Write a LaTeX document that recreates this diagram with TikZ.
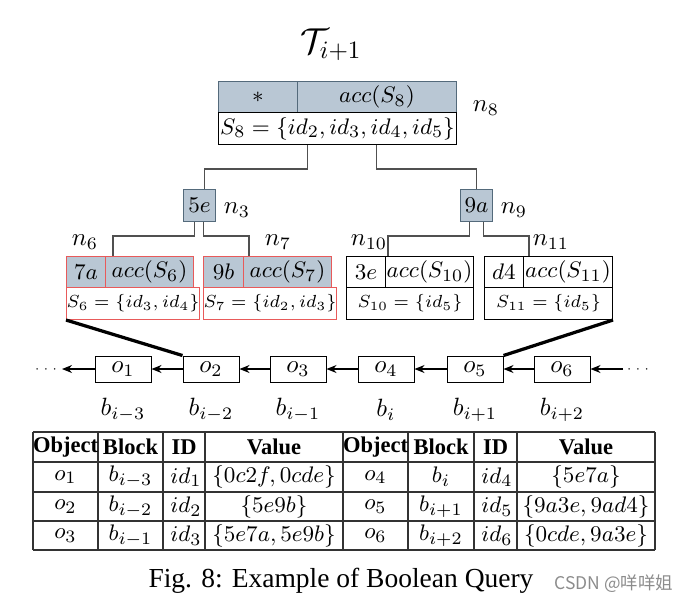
\documentclass[tikz,border=0pt]{standalone}
\usepackage[no-math]{fontspec}
\setmainfont{Liberation Serif}
\newfontfamily\cjkfont{Noto Sans CJK SC}
\usetikzlibrary{calc,positioning,arrows.meta}

\newcommand{\pxu}{0.4pt}
\newcommand{\rootfont}{\fontsize{9.4}{11}\selectfont}
\newcommand{\leaffont}{\fontsize{9.3}{11}\selectfont}
\newcommand{\setfont}{\fontsize{7.5}{9}\selectfont}
\definecolor{keyfill}{RGB}{185,199,212}
\definecolor{slate}{RGB}{84,106,123}
\definecolor{leafred}{RGB}{232,90,90}
\definecolor{edgegray}{RGB}{80,80,80}

\begin{document}
\begin{tikzpicture}[x=\pxu, y=-\pxu,
  cell/.style = {draw, anchor=north west, inner sep=0pt, minimum height=31*\pxu},
  wd/.style = {minimum width=#1*\pxu},
  keycell/.style = {cell, fill=keyfill, draw=slate},
  redtop/.style = {cell, fill=keyfill, draw=leafred, font=\leaffont},
  redrow/.style = {cell, draw=leafred, minimum height=32*\pxu, font=\setfont},
  plaintop/.style = {cell, font=\leaffont},
  plainrow/.style = {cell, minimum height=32*\pxu, font=\setfont},
  branch/.style = {draw=edgegray, line width=0.5pt},
  ptr/.style = {line width=1.3pt},
  obj/.style = {draw, inner sep=0pt, minimum width=56*\pxu, minimum height=26*\pxu},
  arr/.style = {-{Stealth[length=4pt,width=3.2pt]}, line width=0.5pt},
  rule/.style = {draw=black!80, line width=0.5pt},
  hdr/.style = {font=\bfseries\fontsize{9}{10}\selectfont},
  tcell/.style = {font=\fontsize{9.5}{11}\selectfont}
  ]
  \useasboundingbox (0,0) rectangle (690,609);

  \node (title) at (331,45) {\Large $\mathcal{T}_{i+1}$};

  % root n8
  \node[keycell, wd=79, font=\rootfont] (n8k) at (218,81) {$\ast$};
  \node[keycell, wd=159, font=\rootfont] (n8c) at (297,81) {$acc(S_8)$};
  \node[cell, wd=238, minimum height=32*\pxu, font=\rootfont] (n8s) at (218,112) {$S_8=\{id_2,id_3,id_4,id_5\}$};
  \node (l8) at (486,108) {$n_8$};

  % inner nodes
  \node[keycell, wd=32, minimum height=32*\pxu, font=\leaffont] (n3) at (183,189) {$5e$};
  \node[keycell, wd=32, minimum height=32*\pxu, font=\leaffont] (n9) at (460,189) {$9a$};
  \node (l3) at (237,210) {$n_3$};
  \node (l9) at (514,210) {$n_9$};

  % leaves
  \node[redtop, wd=39] (n6k) at (66,256) {$7a$};
  \node[redtop, wd=88] (n6c) at (105,256) {$acc(S_6)$};
  \node[redrow, wd=127] (n6s) at (66,287) {$S_6=\{id_3,id_4\}$};
  \node[redtop, wd=40] (n7k) at (203,256) {$9b$};
  \node[redtop, wd=88] (n7c) at (243,256) {$acc(S_7)$};
  \node[redrow, wd=128] (n7s) at (203,287) {$S_7=\{id_2,id_3\}$};
  \node[plaintop, wd=39] (n10k) at (346,256) {$3e$};
  \node[plaintop, wd=88] (n10c) at (385,256) {$acc(S_{10})$};
  \node[plainrow, wd=127] (n10s) at (346,287) {$S_{10}=\{id_5\}$};
  \node[plaintop, wd=39] (n11k) at (484,256) {$d4$};
  \node[plaintop, wd=89] (n11c) at (523,256) {$acc(S_{11})$};
  \node[plainrow, wd=128] (n11s) at (484,287) {$S_{11}=\{id_5\}$};
  \node (l6) at (85,242) {$n_6$};
  \node (l7) at (278,242) {$n_7$};
  \node (l10) at (369,242) {$n_{10}$};
  \node (l11) at (551,242) {$n_{11}$};

  % tree edges
  \draw[branch] ($(n8s.south)+(-30,0)$) -- ++(0,24) -| ($(n3.north)+(5,0)$);
  \draw[branch] ($(n8s.south)+(39,0)$) -- ++(0,24) -| (n9.north);
  \draw[branch] ($(n3.south)+(-5,0)$) -- ++(0,14) -| ($(n6c.north west)+(8,0)$);
  \draw[branch] ($(n3.south)+(4,0)$) -- ++(0,14) -| ($(n7c.north west)+(6,0)$);
  \draw[branch] ($(n9.south)+(-7,0)$) -- ++(0,14) -| ($(n10c.north west)+(3,0)$);
  \draw[branch] ($(n9.south)+(7,0)$) -- ++(0,14) -| ($(n11c.north west)+(6,0)$);

  % object list
  \foreach \i/\x/\b in {1/123/{i-3},2/211/{i-2},3/298/{i-1},4/386/i,5/475/{i+1},6/562/{i+2}}{
    \node[obj] (o\i) at (\x,369) {$o_{\i}$};
    \node (b\i) at (\x,410) {$b_{\b}$};
  }
  \foreach \i/\j in {2/1,3/2,4/3,5/4,6/5}
    \draw[arr] (o\i) -- (o\j);
  \node (ldots) at (46,369) {\tiny$\cdots$};
  \node (rdots) at (638,369) {\tiny$\cdots$};
  \coordinate (lend) at (62,369);
  \coordinate (rstart) at (623,369);
  \draw[arr] (o1) -- (lend);
  \draw[arr] (rstart) -- (o6);

  \draw[ptr] (n6s.south west) -- (o2.north west);
  \draw[ptr] (n11s.south east) -- (o5.north east);

  % table
  \foreach \x in {33,98,163,205,343,408,474,517,655}
    \draw[rule] (\x,432) -- (\x,550);
  \foreach \y in {432,462,492,521,550}
    \draw[rule] (33,\y) -- (655,\y);
  \foreach \x/\t [count=\c] in {65.5/Object,130.5/Block,184/ID,274/Value,375.5/Object,441/Block,495.5/ID,586/Value}
    \node[hdr] (h\c) at (\x,447) {\t};
  \foreach \x/\t [count=\c] in {65.5/o_1,130.5/b_{i-3},186/id_1,274/{\{0c2f,0cde\}},375.5/o_4,441/b_i,497/id_4,586/{\{5e7a\}}}
    \node[tcell] (ra\c) at (\x,477) {$\t$};
  \foreach \x/\t [count=\c] in {65.5/o_2,130.5/b_{i-2},186/id_2,274/{\{5e9b\}},375.5/o_5,441/b_{i+1},497/id_5,586/{\{9a3e,9ad4\}}}
    \node[tcell] (rb\c) at (\x,506.5) {$\t$};
  \foreach \x/\t [count=\c] in {65.5/o_3,130.5/b_{i-1},186/id_3,274/{\{5e7a,5e9b\}},375.5/o_6,441/b_{i+2},497/id_6,586/{\{0cde,9a3e\}}}
    \node[tcell] (rc\c) at (\x,535.5) {$\t$};

  \node (caption) at (341,581) {\fontsize{11}{13}\selectfont Fig. 8: Example of Boolean Query};
  \node[text=black!45] (mark) at (614,584) {\cjkfont\fontsize{7}{8}\selectfont CSDN @咩咩姐};
\end{tikzpicture}
\end{document}
